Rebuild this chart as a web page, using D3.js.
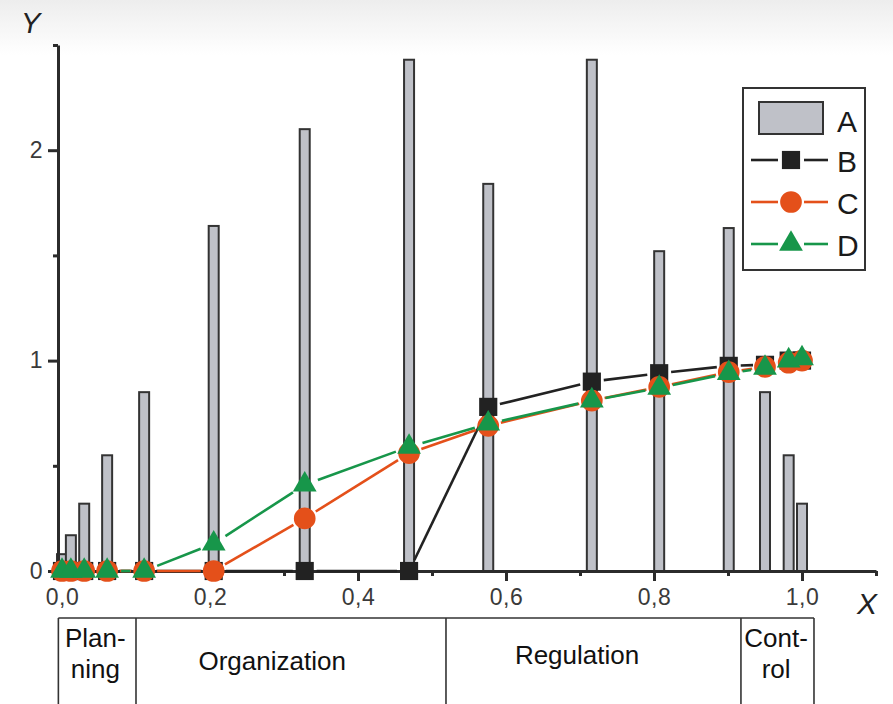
<!DOCTYPE html>
<html><head><meta charset="utf-8">
<script src="https://cdn.jsdelivr.net/npm/d3@7/dist/d3.min.js"></script>
<style>body{margin:0;background:#fff}svg{display:block}</style>
</head><body>
<script>
// ---- data ----
const xs = [0, 0.012, 0.03, 0.061, 0.111, 0.205, 0.328, 0.469, 0.576, 0.716, 0.807, 0.901, 0.95, 0.982, 1.0];
const seriesA = [0.08, 0.17, 0.32, 0.55, 0.85, 1.64, 2.10, 2.43, 1.84, 2.43, 1.52, 1.63, 0.85, 0.55, 0.32];
const seriesB = [0, 0, 0, 0, 0, 0, 0, 0, 0.78, 0.90, 0.94, 0.975, 0.98, 1.0, 1.0];
const seriesC = [0, 0, 0, 0, 0, 0, 0.25, 0.56, 0.69, 0.81, 0.875, 0.945, 0.97, 0.99, 1.0];
const seriesD = [0, 0, 0, 0, 0, 0.13, 0.41, 0.59, 0.70, 0.81, 0.87, 0.94, 0.965, 1.0, 1.01];
const xMajorTicks = [0, 0.2, 0.4, 0.6, 0.8, 1.0];
const xMinorTicks = [0.1, 0.3, 0.5, 0.7, 0.9, 1.1];
const yMajorTicks = [0, 1, 2];
const yMinorTicks = [0.5, 1.5, 2.5];
const legendLabels = ["A", "B", "C", "D"];
const phaseNames = [["Plan-", "ning"], ["Organization"], ["Regulation"], ["Cont-", "rol"]];
const phaseBounds = [-0.0049, 0.1, 0.5189, 0.9175, 1.0162];
const phaseLabelAt = [0.045, 0.284, 0.696, 0.965];

const W = 893, H = 704;
const FONT = "'Liberation Sans', Arial, sans-serif";
const svg = d3.select("body").append("svg").attr("width", W).attr("height", H)
  .style("font-family", FONT);

// background gradient at top
const defs = svg.append("defs");
const grad = defs.append("linearGradient").attr("id", "bg").attr("x1", 0).attr("x2", 0).attr("y1", 0).attr("y2", 1);
grad.append("stop").attr("offset", 0).attr("stop-color", "#ededed");
grad.append("stop").attr("offset", 1).attr("stop-color", "#ffffff");
svg.append("rect").attr("width", W).attr("height", H).attr("fill", "#fff");
svg.append("rect").attr("width", W).attr("height", 55).attr("fill", "url(#bg)");

const x = d3.scaleLinear().domain([-0.0054, 1.1]).range([58, 876]);
const y = d3.scaleLinear().domain([0, 2.5]).range([571, 45]);

const dark = "#2b2b2b";
const colB = "#222222", colC = "#e4501a", colD = "#17964a";

// bars
const barW = 10;
svg.append("g").selectAll("rect").data(xs.map((v, i) => ({x: v, a: seriesA[i]})))
  .join("rect")
  .attr("x", d => x(d.x) - barW / 2)
  .attr("width", barW)
  .attr("y", d => y(d.a))
  .attr("height", d => y(0) - y(d.a))
  .attr("fill", "#bfc1c8")
  .attr("stroke", "#333")
  .attr("stroke-width", 2);

// axes
const fmt = d => d.toFixed(1).replace(".", ",");
const gx = svg.append("g").attr("transform", `translate(0,${y(0)})`)
  .call(d3.axisBottom(x).tickValues(xMajorTicks).tickFormat(fmt).tickSize(10).tickSizeOuter(0).tickPadding(8));
const gxm = svg.append("g").attr("transform", `translate(0,${y(0)})`)
  .call(d3.axisBottom(x).tickValues(xMinorTicks).tickFormat("").tickSize(5).tickSizeOuter(0));
const gy = svg.append("g").attr("transform", `translate(${x.range()[0]},0)`)
  .call(d3.axisLeft(y).tickValues(yMajorTicks).tickFormat(d3.format("d")).tickSize(10).tickSizeOuter(0).tickPadding(5));
const gym = svg.append("g").attr("transform", `translate(${x.range()[0]},0)`)
  .call(d3.axisLeft(y).tickValues(yMinorTicks).tickFormat("").tickSize(5).tickSizeOuter(0));
[gx, gxm, gy, gym].forEach(g => {
  g.attr("font-family", FONT).attr("font-size", 23);
  g.selectAll("path.domain").attr("stroke", dark).attr("stroke-width", 3);
  g.selectAll(".tick line").attr("stroke", dark).attr("stroke-width", 3);
  g.selectAll(".tick text").attr("fill", "#3a3a3a").style("font-size", "23px")
    .style("font-family", FONT).style("letter-spacing", "0.5px");
});
gym.select("path.domain").remove();
gxm.select("path.domain").remove();

// axis titles
svg.append("text").attr("x", 857).attr("y", 614).text("X")
  .style("font-size", "30px").style("font-style", "italic").attr("fill", "#222");
svg.append("text").attr("x", 21).attr("y", 33).text("Y")
  .style("font-size", "29px").style("font-style", "italic").attr("fill", "#222");

// series lines with gaps near markers
function drawSeries(vals, color, gap) {
  const pts = xs.map((v, i) => [x(v), y(vals[i])]);
  const segs = [];
  for (let i = 0; i < pts.length - 1; i++) {
    const [x1, y1] = pts[i], [x2, y2] = pts[i + 1];
    const L = Math.hypot(x2 - x1, y2 - y1);
    if (L <= 2 * gap) continue;
    const ux = (x2 - x1) / L, uy = (y2 - y1) / L;
    segs.push([x1 + ux * gap, y1 + uy * gap, x2 - ux * gap, y2 - uy * gap]);
  }
  svg.append("g").selectAll("line").data(segs).join("line")
    .attr("x1", d => d[0]).attr("y1", d => d[1]).attr("x2", d => d[2]).attr("y2", d => d[3])
    .attr("stroke", color).attr("stroke-width", 2.6);
}
drawSeries(seriesB, colB, 12);
drawSeries(seriesC, colC, 13);
drawSeries(seriesD, colD, 14);

const symB = d3.symbol().type(d3.symbolSquare).size(330);
const symC = d3.symbol().type(d3.symbolCircle).size(370);
const symD = d3.symbol().type(d3.symbolTriangle).size(245);
function drawMarkers(vals, sym, color) {
  svg.append("g").selectAll("path").data(xs.map((v, i) => [x(v), y(vals[i])])).join("path")
    .attr("d", sym).attr("transform", d => `translate(${d[0]},${d[1]})`)
    .attr("fill", color);
}
drawMarkers(seriesB, symB, colB);
drawMarkers(seriesC, symC, colC);
drawMarkers(seriesD, symD, colD);

// legend
const lg = svg.append("g");
lg.append("rect").attr("x", 743).attr("y", 88).attr("width", 122).attr("height", 182)
  .attr("fill", "#fff").attr("stroke", "#333").attr("stroke-width", 2);
lg.append("rect").attr("x", 759).attr("y", 102).attr("width", 64).attr("height", 32)
  .attr("fill", "#bfc1c8").attr("stroke", "#333").attr("stroke-width", 2);
const legRows = [
  {yy: 160, color: colB, sym: symB},
  {yy: 202, color: colC, sym: symC},
  {yy: 244, color: colD, sym: symD}
];
legRows.forEach(r => {
  lg.append("line").attr("x1", 751).attr("x2", 778).attr("y1", r.yy).attr("y2", r.yy).attr("stroke", r.color).attr("stroke-width", 2.6);
  lg.append("line").attr("x1", 804).attr("x2", 828).attr("y1", r.yy).attr("y2", r.yy).attr("stroke", r.color).attr("stroke-width", 2.6);
  lg.append("path").attr("d", r.sym).attr("transform", `translate(791,${r.yy})`).attr("fill", r.color);
});
const legTextY = [132, 172, 214, 256];
legendLabels.forEach((t, i) => {
  lg.append("text").attr("x", 837).attr("y", legTextY[i]).text(t)
    .style("font-size", "30px").attr("fill", "#1a1a1a");
});

// bottom phase table
const tb = svg.append("g");
const tTop = 618;
tb.append("line").attr("x1", x(phaseBounds[0])).attr("x2", x(phaseBounds[phaseBounds.length - 1]))
  .attr("y1", tTop).attr("y2", tTop).attr("stroke", "#333").attr("stroke-width", 1.6);
tb.selectAll("line.v").data(phaseBounds).join("line").attr("class", "v")
  .attr("x1", d => x(d)).attr("x2", d => x(d)).attr("y1", tTop).attr("y2", H)
  .attr("stroke", "#333").attr("stroke-width", 1.6);
phaseNames.forEach((lines, k) => {
  const cx = x(phaseLabelAt[k]);
  let ys;
  if (lines.length === 2) ys = [647, 678];
  else if (k === 1) ys = [670];
  else ys = [664];
  lines.forEach((t, i) => {
    tb.append("text").attr("x", cx).attr("y", ys[i]).attr("text-anchor", "middle").text(t)
      .style("font-size", "26px").attr("fill", "#111");
  });
});
</script>
</body></html>
